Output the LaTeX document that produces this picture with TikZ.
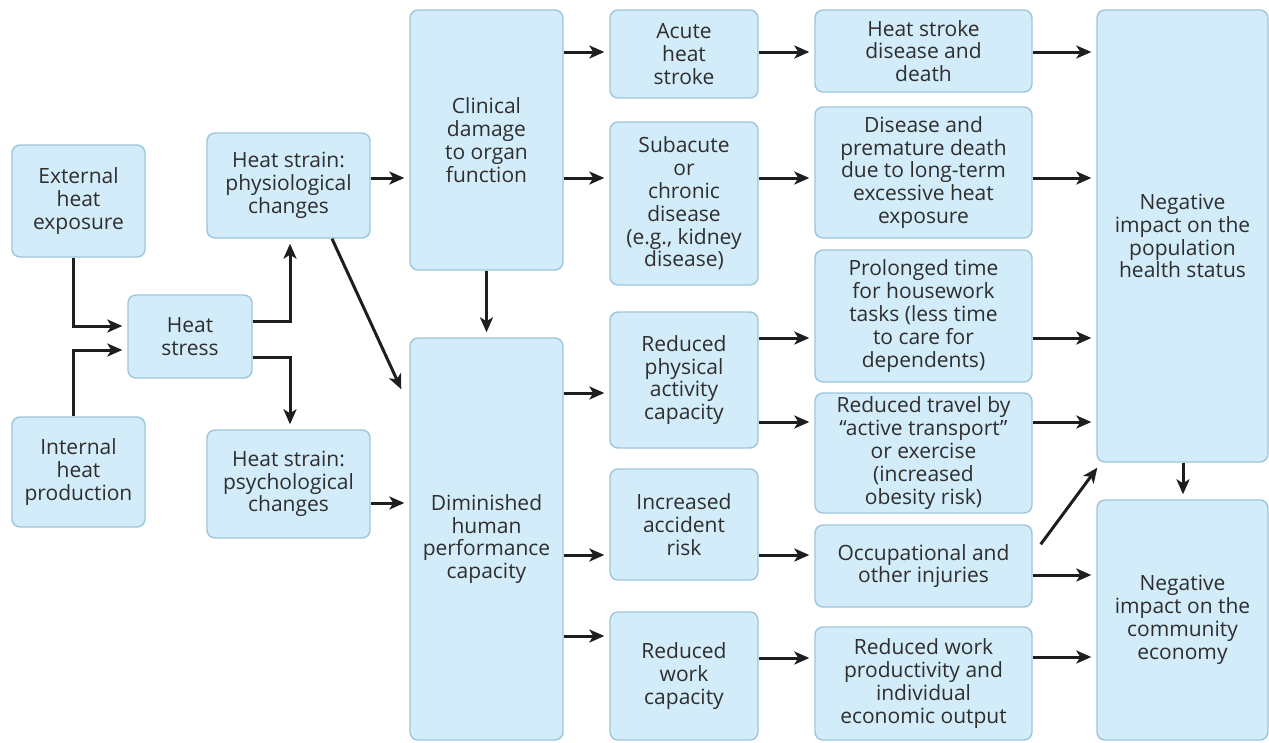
\documentclass[tikz,border=0pt]{standalone}
\usepackage{fontspec}
\setmainfont{Open Sans}
\usepackage{xcolor}
\usepackage{tikz}
\usetikzlibrary{arrows.meta}

\definecolor{boxfill}{HTML}{D3ECFA}
\definecolor{boxline}{HTML}{9EC6DB}
\definecolor{boxtext}{HTML}{2E2E2E}
\definecolor{arrowcol}{HTML}{1E1E1E}

\begin{document}
\begin{tikzpicture}[x=1pt, y=-1pt,
        box/.style={draw=boxline, fill=boxfill, line width=1.4pt, rounded corners=8pt,
            align=center, inner sep=0pt, text=boxtext,
            font=\fontsize{21}{22.8}\selectfont},
        arr/.style={draw=arrowcol, line width=3pt, -{Stealth[length=15pt, width=13pt, inset=4pt]}, shorten >=5pt}]
            \useasboundingbox (0,0) rectangle (1269,742);
            \fill[white] (0,0) rectangle (1269,742);
            \node[box, minimum width=133pt, minimum height=112pt] (ext) at (78.5,201) {External\\heat\\exposure};
            \node[box, minimum width=133pt, minimum height=110pt] (int) at (78.5,472) {Internal\\heat\\production};
            \node[box, minimum width=124pt, minimum height=83pt] (stress) at (190,336.5) {Heat\\stress};
            \node[box, minimum width=163pt, minimum height=105pt] (phys) at (288.5,185.5) {Heat strain:\\physiological\\changes};
            \node[box, minimum width=163pt, minimum height=108pt] (psych) at (288.5,484) {Heat strain:\\psychological\\changes};
            \node[box, minimum width=153pt, minimum height=260pt] (clin) at (486.5,140) {Clinical\\damage\\to organ\\function};
            \node[box, minimum width=153pt, minimum height=402pt] (dimin) at (486.5,539) {Diminished\\human\\performance\\capacity};
            \node[box, minimum width=148pt, minimum height=88pt] (acute) at (684,54) {Acute\\heat\\stroke};
            \node[box, minimum width=148pt, minimum height=163pt] (subac) at (684,203.5) {Subacute\\or\\chronic\\disease\\(e.g., kidney\\disease)};
            \node[box, minimum width=148pt, minimum height=136pt] (rphys) at (684,380) {Reduced\\physical\\activity\\capacity};
            \node[box, minimum width=148pt, minimum height=111pt] (accid) at (684,524.5) {Increased\\accident\\risk};
            \node[box, minimum width=148pt, minimum height=128pt] (rwork) at (684,676) {Reduced\\work\\capacity};
            \node[box, minimum width=217pt, minimum height=82pt] (hsd) at (923.5,51) {Heat stroke\\disease and\\death};
            \node[box, minimum width=217pt, minimum height=131pt] (prem) at (923.5,172.5) {Disease and\\premature death\\due to long-term\\excessive heat\\exposure};
            \node[box, minimum width=217pt, minimum height=132pt] (prol) at (923.5,316) {Prolonged time\\for housework\\tasks (less time\\to care for\\dependents)};
            \node[box, minimum width=217pt, minimum height=120pt] (travel) at (923.5,453) {Reduced travel by\\“active transport”\\or exercise\\(increased\\obesity risk)};
            \node[box, minimum width=217pt, minimum height=82pt] (occup) at (923.5,566) {Occupational and\\other injuries};
            \node[box, minimum width=217pt, minimum height=113pt] (rprod) at (923.5,683.5) {Reduced work\\productivity and\\individual\\economic output};
            \node[box, minimum width=171pt, minimum height=452pt] (popul) at (1182.5,236) {Negative\\impact on the\\population\\health status};
            \node[box, minimum width=171pt, minimum height=240pt] (econ) at (1182.5,620) {Negative\\impact on the\\community\\economy};
            \draw[arr] ([xshift=-5.5pt]ext.south) |- ([yshift=10.5pt]stress.west);
            \draw[arr] ([xshift=-5.5pt]int.north) |- ([yshift=-13.5pt]stress.west);
            \draw[arr] ([yshift=15.5pt]stress.east) -| ([xshift=1.5pt]phys.south);
            \draw[arr] ([yshift=-20.5pt]stress.east) -| ([xshift=1.5pt]psych.north);
            \draw[arr] ([yshift=7.5pt]phys.east) -- ([yshift=7.5pt]phys.east -| clin.west);
            \draw[arr, shorten >=0pt] ([xshift=43.5pt]phys.south) -- ([xshift=-8pt, yshift=-52pt]dimin.north west);
            \draw[arr] ([yshift=-19pt]psych.east) -- ([yshift=-19pt]psych.east -| dimin.west);
            \draw[arr] (clin.south) -- (dimin.north);
            \draw[arr] ([yshift=2pt]acute.west -| clin.east) -- ([yshift=2pt]acute.west);
            \draw[arr] ([yshift=25.5pt]subac.west -| clin.east) -- ([yshift=25.5pt]subac.west);
            \draw[arr] ([yshift=-13pt]rphys.west -| dimin.east) -- ([yshift=-13pt]rphys.west);
            \draw[arr] ([yshift=-30.5pt]accid.west -| dimin.east) -- ([yshift=-30.5pt]accid.west);
            \draw[arr] ([yshift=40pt]rwork.west -| dimin.east) -- ([yshift=40pt]rwork.west);
            \draw[arr] ([yshift=-1pt]hsd.west -| acute.east) -- ([yshift=-1pt]hsd.west);
            \draw[arr] ([yshift=-5.5pt]prem.west -| subac.east) -- ([yshift=-5.5pt]prem.west);
            \draw[arr] ([yshift=-22pt]prol.west -| rphys.east) -- ([yshift=-22pt]prol.west);
            \draw[arr] ([yshift=31pt]travel.west -| rphys.east) -- ([yshift=31pt]travel.west);
            \draw[arr] ([yshift=11pt]occup.west -| accid.east) -- ([yshift=11pt]occup.west);
            \draw[arr] ([yshift=25.5pt]rprod.west -| rwork.east) -- ([yshift=25.5pt]rprod.west);
            \draw[arr] ([yshift=-1pt]hsd.east) -- ([yshift=-1pt]hsd.east -| popul.west);
            \draw[arr] ([yshift=-5.5pt]prem.east) -- ([yshift=-5.5pt]prem.east -| popul.west);
            \draw[arr] ([yshift=-22pt]prol.east) -- ([yshift=-22pt]prol.east -| popul.west);
            \draw[arr] ([yshift=31pt]travel.east) -- ([yshift=31pt]travel.east -| popul.west);
            \draw[arr] ([yshift=-9pt]occup.east) -- ([yshift=-9pt]occup.east -| econ.west);
            \draw[arr] ([yshift=26.5pt]rprod.east) -- ([yshift=26.5pt]rprod.east -| econ.west);
            \draw[arr, shorten >=0pt] ([xshift=8pt, yshift=-20pt]occup.north east) -- ([xshift=1pt, yshift=-5pt]popul.south west);
            \draw[arr] ([xshift=0.5pt]popul.south) -- ([xshift=0.5pt]econ.north);
        \end{tikzpicture}
\end{document}
